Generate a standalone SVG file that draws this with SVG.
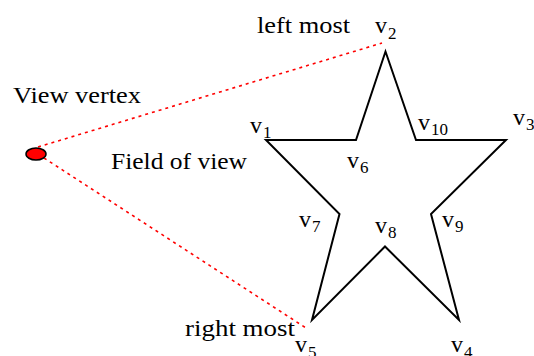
<svg xmlns="http://www.w3.org/2000/svg" width="534" height="356" viewBox="0 0 534 356">
<style>
text{font-family:"Liberation Serif","Times New Roman",serif;fill:#000}
.lb{font-size:24px}
.v{font-size:24px}
.s{font-size:17px}
.fov{fill:none;stroke:#ff0000;stroke-width:1.6;stroke-dasharray:3 4}
</style>
<rect width="534" height="356" fill="#fff"/>
<g id="connectors">
<line class="fov" x1="38" y1="147" x2="382" y2="43"/>
<line class="fov" x1="44" y1="158" x2="306" y2="328"/>
</g>
<g id="star">
<polygon points="266,140 356,140 385.5,51.5 416,140 506,140 431,214 459,320 385,246.5 312,320 339.5,214" fill="none" stroke="#000" stroke-width="2" stroke-linejoin="miter"/>
</g>
<g id="view-vertex">
<ellipse cx="36" cy="154" rx="10" ry="6" fill="#ff0000" stroke="#000" stroke-width="1.5"/>
<text class="lb" x="13" y="103" textLength="128" lengthAdjust="spacingAndGlyphs">View vertex</text>
</g>
<g id="labels">
<text class="lb" x="111" y="169" textLength="136" lengthAdjust="spacingAndGlyphs">Field of view</text>
<text class="lb" x="257" y="33" textLength="93" lengthAdjust="spacingAndGlyphs">left most</text>
<text class="lb" x="185" y="336" textLength="110" lengthAdjust="spacingAndGlyphs">right most</text>
</g>
<g id="v1"><text class="v" x="250" y="133">v</text><text class="s" x="263" y="138">1</text></g>
<g id="v2"><text class="v" x="375" y="33">v</text><text class="s" x="388" y="39">2</text></g>
<g id="v3"><text class="v" x="513" y="125">v</text><text class="s" x="526" y="130">3</text></g>
<g id="v4"><text class="v" x="451" y="352">v</text><text class="s" x="464" y="358">4</text></g>
<g id="v5"><text class="v" x="295" y="352">v</text><text class="s" x="308" y="358">5</text></g>
<g id="v6"><text class="v" x="347" y="168">v</text><text class="s" x="360" y="173">6</text></g>
<g id="v7"><text class="v" x="299" y="227">v</text><text class="s" x="312" y="232">7</text></g>
<g id="v8"><text class="v" x="375" y="233">v</text><text class="s" x="388" y="238">8</text></g>
<g id="v9"><text class="v" x="442" y="227">v</text><text class="s" x="455" y="232">9</text></g>
<g id="v10"><text class="v" x="418" y="130">v</text><text class="s" x="431" y="135">10</text></g>
</svg>
